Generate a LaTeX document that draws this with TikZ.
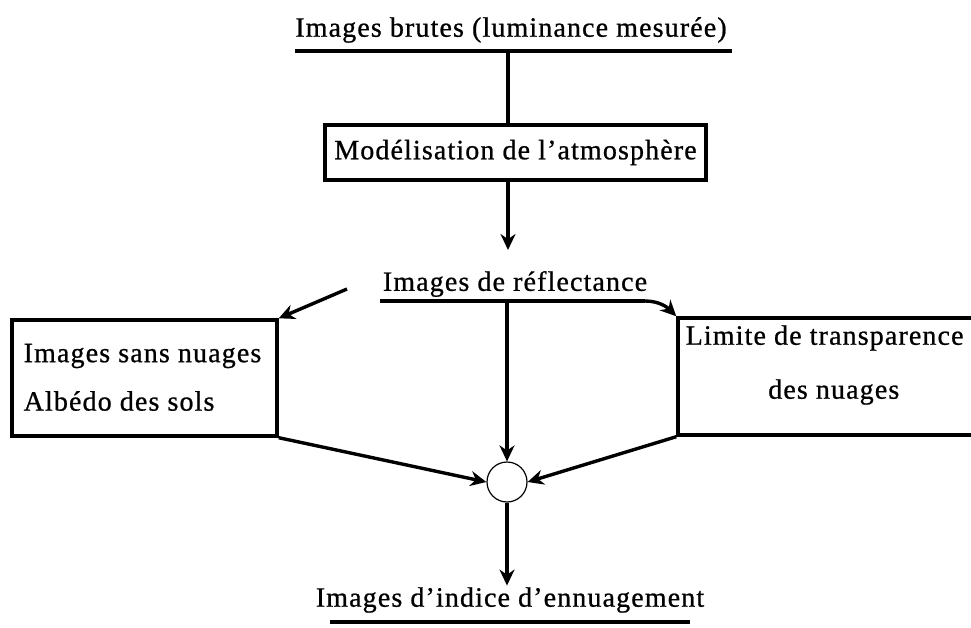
\documentclass[tikz,border=0pt]{standalone}
\usepackage{fontspec}
\setmainfont{Liberation Serif}[LetterSpace=4.0,FakeBold=0.8]
\usetikzlibrary{arrows.meta}
\begin{document}
\begin{tikzpicture}[x=1pt,y=-1pt,line width=3.4pt,
  lbl/.style={inner sep=0pt,font=\fontsize{28}{32}\selectfont},
  boxnode/.style={draw,rectangle,inner sep=0pt},
  arr/.style={-{Stealth[length=16pt,width=15pt]}},
  ring/.style={draw,circle,line width=1.2pt,minimum size=40pt,inner sep=0pt}]
\useasboundingbox (0,0) rectangle (971,628);
% title
\node[lbl] (t1) at (511,30) {Images brutes (luminance mesurée)};
\coordinate (u1a) at (295,51);
\coordinate (u1b) at (732,51);
\coordinate (u1) at (508,51);
\draw (u1a) -- (u1b);
% modelisation box
\node[boxnode,minimum width=381pt,minimum height=55pt] (m) at (515.5,152.5) {};
\node[lbl] (mt) at (m.center) {Modélisation de l'atmosphère};
\draw (u1) -- (u1 |- m.north);
\coordinate (ma) at (508,180);
\coordinate (mb) at (508,250);
\draw[arr] (ma) -- (mb);
% reflectance
\node[lbl] (r) at (515,284) {Images de réflectance};
\coordinate (r0) at (380,301);
\coordinate (r1) at (645,301);
\coordinate (rl) at (347,289);
\coordinate (rc) at (507,301);
\draw (r0) -- (r1);
% left box
\node[boxnode,minimum width=265pt,minimum height=116pt] (lb) at (144.5,378) {};
\node[lbl,anchor=west] (lb1) at (22,356) {Images sans nuages};
\node[lbl,anchor=west] (lb2) at (22,401) {Albédo des sols};
% right box
\node[boxnode,minimum width=302pt,minimum height=117pt] (rb) at (829,376.5) {};
\node[lbl,anchor=west] (rb1) at (684,338) {Limite de transparence};
\node[lbl,anchor=east] (rb2) at (901,392) {des nuages};
% connectors from reflectance
\draw[arr] (rl) -- (lb.north east);
\draw[arr] (r1) .. controls (660,301) and (668,308) .. (rb.north west);
% circle
\node[ring] (c) at (507,482) {};
\draw[arr] (rc) -- (c.north);
\draw[arr] (lb.south east) -- (c.west);
\draw[arr] (rb.south west) -- (c.east);
% output
\node[lbl] (o) at (510,600) {Images d'indice d'ennuagement};
\coordinate (o0) at (330,622);
\coordinate (o1) at (690,622);
\draw (o0) -- (o1);
\draw[arr] (c.south) -- (c.south |- o.north);
\end{tikzpicture}
\end{document}
